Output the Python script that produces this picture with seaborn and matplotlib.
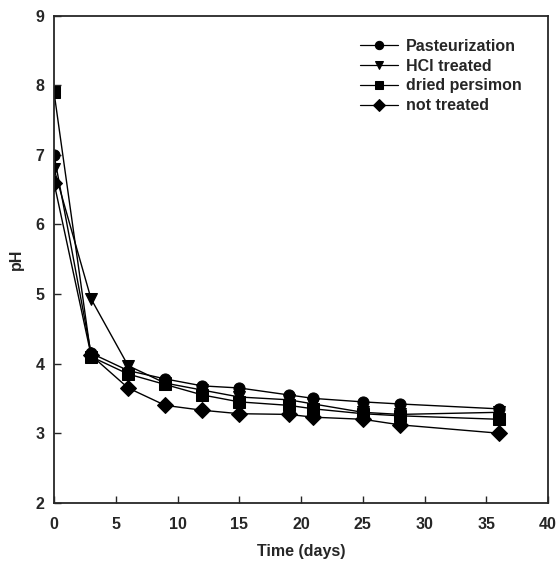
import pandas as pd
import matplotlib
matplotlib.use("Agg")
import matplotlib.pyplot as plt
import seaborn as sns

days = [0, 3, 6, 9, 12, 15, 19, 21, 25, 28, 36]
pasteurization = [7.0, 4.15, 3.90, 3.78, 3.68, 3.65, 3.55, 3.50, 3.45, 3.42, 3.35]
hcl_treated = [6.8, 4.93, 3.97, 3.72, 3.62, 3.52, 3.48, 3.42, 3.30, 3.27, 3.30]
dried_persimon = [7.9, 4.10, 3.85, 3.70, 3.55, 3.45, 3.40, 3.35, 3.28, 3.25, 3.20]
not_treated = [6.6, 4.12, 3.65, 3.40, 3.33, 3.28, 3.27, 3.23, 3.20, 3.12, 3.00]

series = ["Pasteurization", "HCl treated", "dried persimon", "not treated"]
values = [pasteurization, hcl_treated, dried_persimon, not_treated]

dane = pd.DataFrame({
    "day": days * len(series),
    "pH": sum(values, []),
    "group": [s for s in series for _ in days],
})

sns.set_style("ticks")
plt.rcParams["font.family"] = ["Liberation Sans", "DejaVu Sans"]
plt.rcParams["font.weight"] = "bold"

fig = plt.figure(figsize=(5.57, 5.63), dpi=100)
ax = fig.add_axes([0.097, 0.107, 0.887, 0.865])

sns.lineplot(data=dane, x="day", y="pH", hue="group", style="group",
             hue_order=series, style_order=series,
             palette=["black"] * 4,
             markers={"Pasteurization": "o", "HCl treated": "v",
                      "dried persimon": "s", "not treated": "D"},
             dashes=False, markersize=8, markeredgecolor="black",
             linewidth=1.0, ax=ax)

ax.set_xlim(0, 40)
ax.set_ylim(2, 9)
ax.set_xticks(range(0, 41, 5))
ax.set_yticks(range(2, 10))
ax.tick_params(direction="in", length=5, width=1, labelsize=11.5)
ax.tick_params(axis="x", pad=10)
ax.tick_params(axis="y", pad=7)
for s in ax.spines.values():
    s.set_linewidth(1.3)
ax.set_xlabel("Time (days)", fontsize=11.5, fontweight="bold", labelpad=9)
ax.set_ylabel("pH", fontsize=11.5, fontweight="bold", labelpad=8)

leg = ax.legend(loc="upper left", bbox_to_anchor=(0.59, 0.982), frameon=False,
                fontsize=11.5, handlelength=2.4, handletextpad=0.5,
                labelspacing=0.3)
for h in leg.legend_handles:
    h.set_markersize(6)
    h.set_linewidth(0.9)

fig.savefig("out.png", dpi=100)
